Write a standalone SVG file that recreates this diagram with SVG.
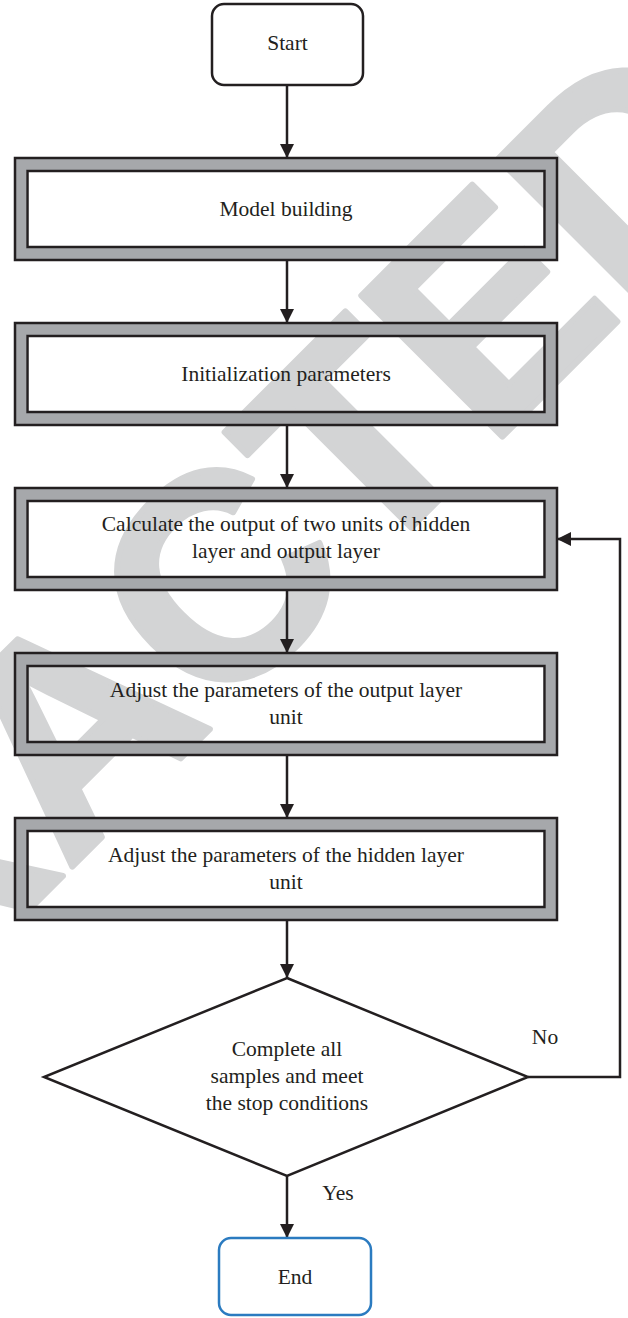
<svg xmlns="http://www.w3.org/2000/svg" width="628" height="1318" viewBox="0 0 628 1318">
  <style>
    .lbl { font-family: "Liberation Serif", "Times New Roman", serif; font-size: 21.5px; fill: #231f20; text-anchor: middle; }
    .edge { stroke: #231f20; stroke-width: 2.5; fill: none; }
    .frame-out { fill: none; stroke: #231f20; stroke-width: 2.5; }
    .frame-band { fill: none; stroke: #a6a8ab; stroke-width: 11; }
    .frame-in { fill: none; stroke: #231f20; stroke-width: 2.5; }
    .term { fill: none; stroke: #231f20; stroke-width: 2.5; }
    .term-end { fill: none; stroke: #2b7bc0; stroke-width: 2.5; }
    .stamp { font-family: "Liberation Sans", Arial, sans-serif; font-weight: bold; font-size: 290px; fill: #d3d4d5; stroke: #d3d4d5; stroke-width: 6; stroke-linejoin: round; }
  </style>
  <defs>
    <marker id="arrow" markerUnits="userSpaceOnUse" markerWidth="14" markerHeight="14" refX="14" refY="7" orient="auto">
      <path d="M0,0 L14,7 L0,14 z" fill="#231f20"/>
    </marker>
  </defs>

  <rect width="628" height="1318" fill="#ffffff"/>

  <!-- background stamp -->
  <text class="stamp" transform="translate(-491,1430) rotate(-45)">RETRACTED</text>

  <!-- connectors -->
  <g id="connectors">
    <line class="edge" x1="287" y1="85" x2="287" y2="158" marker-end="url(#arrow)"/>
    <line class="edge" x1="287" y1="260" x2="287" y2="323" marker-end="url(#arrow)"/>
    <line class="edge" x1="287" y1="425" x2="287" y2="488" marker-end="url(#arrow)"/>
    <line class="edge" x1="287" y1="590" x2="287" y2="653" marker-end="url(#arrow)"/>
    <line class="edge" x1="287" y1="755" x2="287" y2="818" marker-end="url(#arrow)"/>
    <line class="edge" x1="287" y1="920" x2="287" y2="978" marker-end="url(#arrow)"/>
    <line class="edge" x1="287" y1="1176" x2="287" y2="1238" marker-end="url(#arrow)"/>
    <path class="edge" stroke-width="2" d="M528,1077 H620 V539 H557" marker-end="url(#arrow)"/>
    <text class="lbl" x="545" y="1044">No</text>
    <text class="lbl" x="338" y="1200">Yes</text>
  </g>

  <g id="start">
    <rect class="term" x="212" y="4" width="151" height="81" rx="12"/>
    <text class="lbl" x="287.5" y="50">Start</text>
  </g>

  <g id="model-building">
    <rect class="frame-band" x="21" y="164.5" width="530" height="89"/>
    <rect class="frame-out" x="15" y="158" width="542" height="102"/>
    <rect class="frame-in" x="27.5" y="171" width="517" height="76"/>
    <text class="lbl" x="286" y="216">Model building</text>
  </g>

  <g id="init-params">
    <rect class="frame-band" x="21" y="329.5" width="530" height="89"/>
    <rect class="frame-out" x="15" y="323" width="542" height="102"/>
    <rect class="frame-in" x="27.5" y="336" width="517" height="76"/>
    <text class="lbl" x="286" y="381">Initialization parameters</text>
  </g>

  <g id="calc-output">
    <rect class="frame-band" x="21" y="494.5" width="530" height="89"/>
    <rect class="frame-out" x="15" y="488" width="542" height="102"/>
    <rect class="frame-in" x="27.5" y="501" width="517" height="76"/>
    <text class="lbl" x="286" y="531">Calculate the output of two units of hidden</text>
    <text class="lbl" x="286" y="558">layer and output layer</text>
  </g>

  <g id="adjust-output">
    <rect class="frame-band" x="21" y="659.5" width="530" height="89"/>
    <rect class="frame-out" x="15" y="653" width="542" height="102"/>
    <rect class="frame-in" x="27.5" y="666" width="517" height="76"/>
    <text class="lbl" x="286" y="697">Adjust the parameters of the output layer</text>
    <text class="lbl" x="286" y="724">unit</text>
  </g>

  <g id="adjust-hidden">
    <rect class="frame-band" x="21" y="824.5" width="530" height="89"/>
    <rect class="frame-out" x="15" y="818" width="542" height="102"/>
    <rect class="frame-in" x="27.5" y="831" width="517" height="76"/>
    <text class="lbl" x="286" y="862">Adjust the parameters of the hidden layer</text>
    <text class="lbl" x="286" y="889">unit</text>
  </g>

  <g id="stop-check">
    <polygon class="term" points="287,978 528,1077 287,1176 44,1077"/>
    <text class="lbl" x="287" y="1056">Complete all</text>
    <text class="lbl" x="287" y="1083">samples and meet</text>
    <text class="lbl" x="287" y="1110">the stop conditions</text>
  </g>

  <g id="end">
    <rect class="term-end" x="219" y="1238" width="152" height="77" rx="12"/>
    <text class="lbl" x="295" y="1284">End</text>
  </g>
</svg>
